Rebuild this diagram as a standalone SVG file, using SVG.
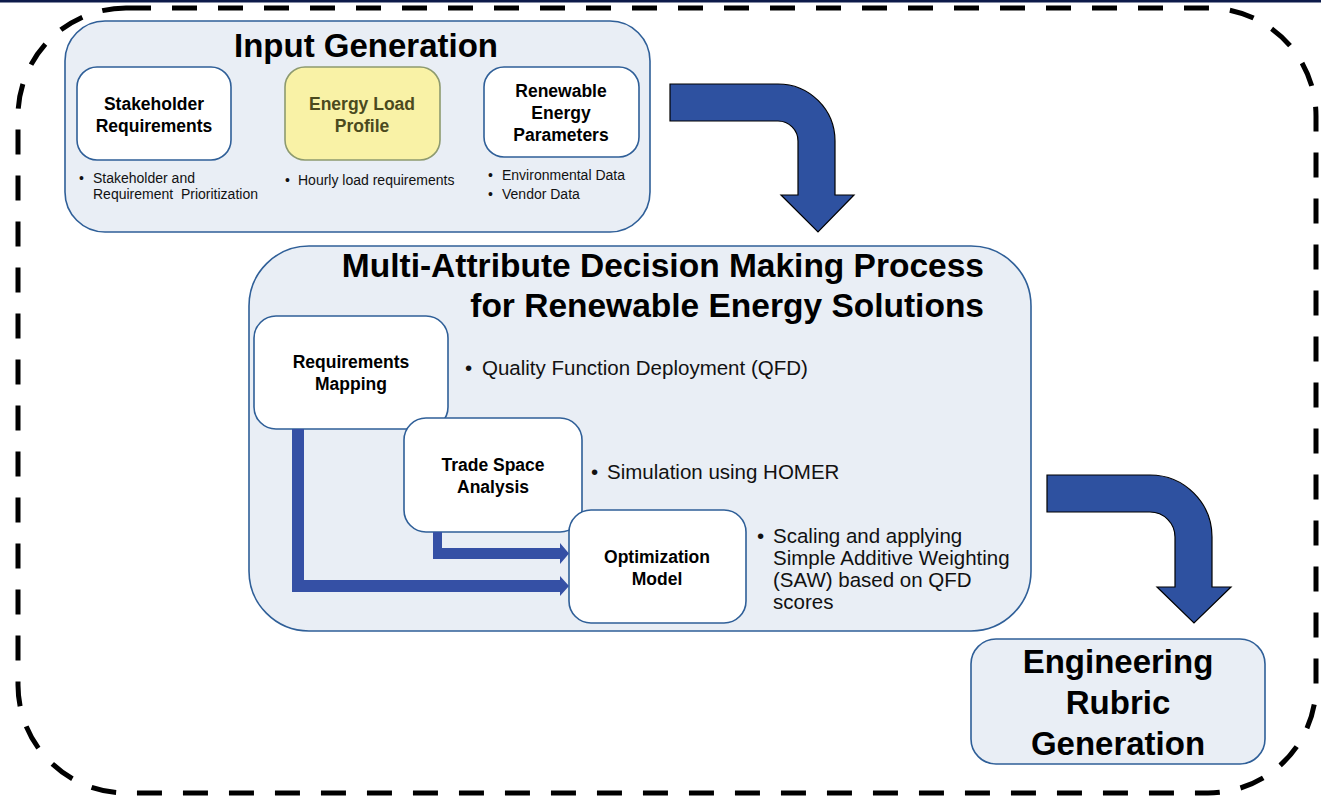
<svg xmlns="http://www.w3.org/2000/svg" width="1321" height="797" viewBox="0 0 1321 797">
<style>
.panel{fill:#e9eef5;stroke:#2f5f98;stroke-width:1.6}
.box{fill:#ffffff;stroke:#2f5f98;stroke-width:1.6}
.ttl{font-family:"Liberation Sans",Arial,sans-serif;font-weight:bold;fill:#000;text-anchor:middle}
.lbl{font-family:"Liberation Sans",Arial,sans-serif;font-weight:bold;font-size:17.5px;fill:#000;text-anchor:middle}
.sm{font-family:"Liberation Sans",Arial,sans-serif;font-size:14px;fill:#111}
.bl{font-family:"Liberation Sans",Arial,sans-serif;font-size:20.5px;fill:#111}
.big{fill:#2e51a0;stroke:#000;stroke-width:1.2}
.conn{fill:#3550a5}
</style>
<rect x="0" y="0" width="1321" height="2.5" fill="#0d1b4a"/>
<rect id="boundary" x="18" y="8" width="1298" height="785" rx="108" ry="108" fill="none" stroke="#000" stroke-width="5" stroke-dasharray="25 21"/>

<g id="input-generation">
<rect class="panel" x="65" y="21" width="585" height="211" rx="40" ry="40"/>
<text class="ttl" x="366" y="57" font-size="33">Input Generation</text>
<text class="sm" x="79" y="183">•</text>
<text class="sm" x="93" y="183">Stakeholder and</text>
<text class="sm" x="93" y="199" xml:space="preserve">Requirement  Prioritization</text>
<text class="sm" x="285" y="185">•</text>
<text class="sm" x="298" y="185">Hourly load requirements</text>
<text class="sm" x="488" y="180">•</text>
<text class="sm" x="502" y="180">Environmental Data</text>
<text class="sm" x="488" y="199">•</text>
<text class="sm" x="502" y="199">Vendor Data</text>
</g>

<g id="stakeholder-requirements">
<rect class="box" x="77" y="67" width="154" height="93" rx="20" ry="20"/>
<text class="lbl" x="154" y="110">Stakeholder</text>
<text class="lbl" x="154" y="132">Requirements</text>
</g>

<g id="energy-load-profile">
<rect x="285" y="67" width="155" height="93" rx="20" ry="20" fill="#f9f2a6" stroke="#8d9a6f" stroke-width="1.6"/>
<text class="lbl" x="362" y="110" fill="#4b4a1e" style="fill:#4b4a1e">Energy Load</text>
<text class="lbl" x="362" y="132" style="fill:#4b4a1e">Profile</text>
</g>

<g id="renewable-energy-parameters">
<rect class="box" x="484" y="67" width="155" height="90" rx="20" ry="20"/>
<text class="lbl" x="561" y="97">Renewable</text>
<text class="lbl" x="561" y="119">Energy</text>
<text class="lbl" x="561" y="141">Parameters</text>
</g>

<g id="madm-process">
<rect class="panel" x="249" y="246" width="782" height="385" rx="60" ry="60"/>
<text class="ttl" x="984" y="277" font-size="33.5" style="text-anchor:end">Multi-Attribute Decision Making Process</text>
<text class="ttl" x="984" y="317" font-size="33.5" style="text-anchor:end">for Renewable Energy Solutions</text>
<text class="bl" x="465" y="375">•</text>
<text class="bl" x="482" y="375">Quality Function Deployment (QFD)</text>
<text class="bl" x="591" y="479">•</text>
<text class="bl" x="607" y="479">Simulation using HOMER</text>
<text class="bl" x="757" y="543">•</text>
<text class="bl" x="773" y="543">Scaling and applying</text>
<text class="bl" x="773" y="565">Simple Additive Weighting</text>
<text class="bl" x="773" y="587">(SAW) based on QFD</text>
<text class="bl" x="773" y="609">scores</text>
</g>

<g id="requirements-mapping">
<rect class="box" x="254" y="316" width="194" height="113" rx="22" ry="22"/>
<text class="lbl" x="351" y="368">Requirements</text>
<text class="lbl" x="351" y="390">Mapping</text>
</g>

<g id="trade-space-analysis">
<rect class="box" x="404" y="418" width="178" height="114" rx="22" ry="22"/>
<text class="lbl" x="493" y="471">Trade Space</text>
<text class="lbl" x="493" y="493">Analysis</text>
</g>

<g id="optimization-model">
<rect class="box" x="569" y="510" width="177" height="113" rx="22" ry="22"/>
<text class="lbl" x="657" y="563">Optimization</text>
<text class="lbl" x="657" y="585">Model</text>
</g>

<g id="engineering-rubric-generation">
<rect class="panel" x="971" y="639" width="294" height="125" rx="25" ry="25"/>
<text class="ttl" x="1118" y="673" font-size="33">Engineering</text>
<text class="ttl" x="1118" y="714" font-size="33">Rubric</text>
<text class="ttl" x="1118" y="755" font-size="33">Generation</text>
</g>

<g id="connectors">
<path class="big" d="M670,84 H778 A57,57 0 0 1 835,141 V195 H854 L818,232 L781,195 H798 V141 A20,20 0 0 0 778,121 H670 Z"/>
<path class="big" d="M1047,475 H1150 A62,62 0 0 1 1212,537 V587 H1231 L1194,623 L1157,587 H1175 V537 A25,25 0 0 0 1150,512 H1047 Z"/>
<path class="conn" d="M292,429 H304 V580 H560 V576 L569,586 L560,596 V592 H292 Z"/>
<path class="conn" d="M433,532 H442 V548 H560 V543 L569,553.5 L560,564 V559 H433 Z"/>
</g>
</svg>
